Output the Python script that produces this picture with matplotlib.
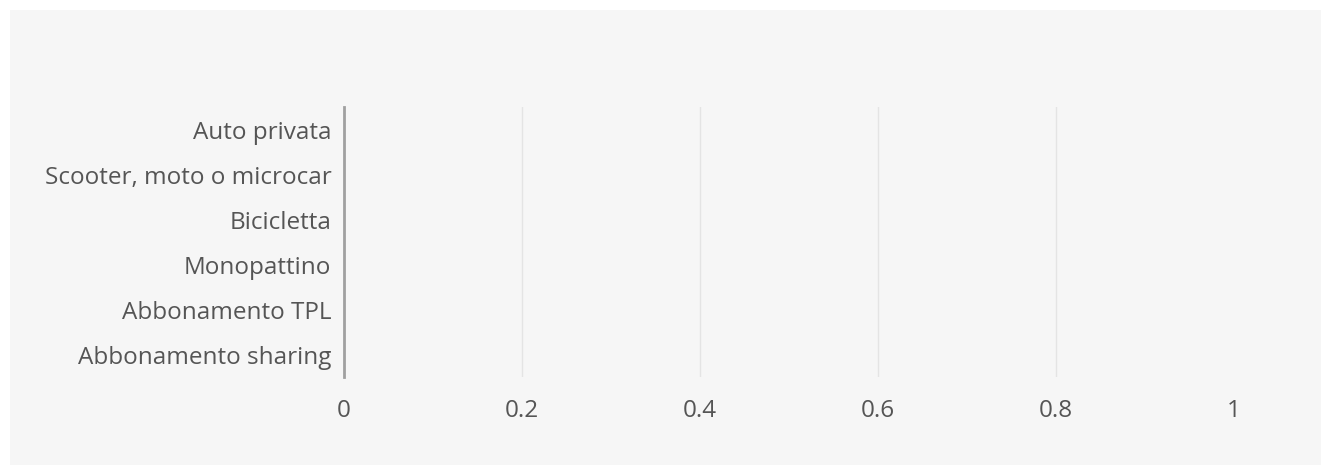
import matplotlib.pyplot as plt
from matplotlib.patches import Rectangle

# Data
categories = ['Auto privata', 'Scooter, moto o microcar', 'Bicicletta',
              'Monopattino', 'Abbonamento TPL', 'Abbonamento sharing']
values = [0, 0, 0, 0, 0, 0]
xticks = [0, 0.2, 0.4, 0.6, 0.8, 1]
xticklabels = ['0', '0.2', '0.4', '0.6', '0.8', '1']

plt.rcParams['font.family'] = ['Open Sans', 'DejaVu Sans']

W, H = 1321, 465
fig = plt.figure(figsize=(W / 100, H / 100), dpi=100, facecolor='#f6f6f6')

# thin white border at top / left
fig.patches.append(Rectangle((0, 1 - 10 / H), 1, 10 / H, transform=fig.transFigure,
                             facecolor='white', edgecolor='none', zorder=-10))
fig.patches.append(Rectangle((0, 0), 10 / W, 1, transform=fig.transFigure,
                             facecolor='white', edgecolor='none', zorder=-10))

ax = fig.add_axes([344 / W, 1 - 377 / H, 890 / W, 270 / H])
ax.set_facecolor('none')

ax.barh(range(len(categories)), values, height=0.6, color='#4472c4')

ax.set_xlim(0, 1)
ax.set_ylim(len(categories) - 0.5, -0.5)
ax.set_yticks(range(len(categories)))
ax.set_yticklabels(categories)
ax.set_xticks(xticks)
ax.set_xticklabels(xticklabels)

for s in ['top', 'right', 'bottom']:
    ax.spines[s].set_visible(False)
ax.spines['left'].set_color('#a0a0a0')
ax.spines['left'].set_linewidth(2)

ax.tick_params(axis='y', length=0, pad=9, labelsize=17.5, labelcolor='#555555')
ax.tick_params(axis='x', length=0, pad=16, labelsize=17.5, labelcolor='#555555')

# vertical gridlines, only inside the plot
for t in xticks[1:-1]:
    ax.axvline(t, color='#e4e4e4', linewidth=1, zorder=0)

fig.savefig('out.png', dpi=100, facecolor=fig.get_facecolor())
